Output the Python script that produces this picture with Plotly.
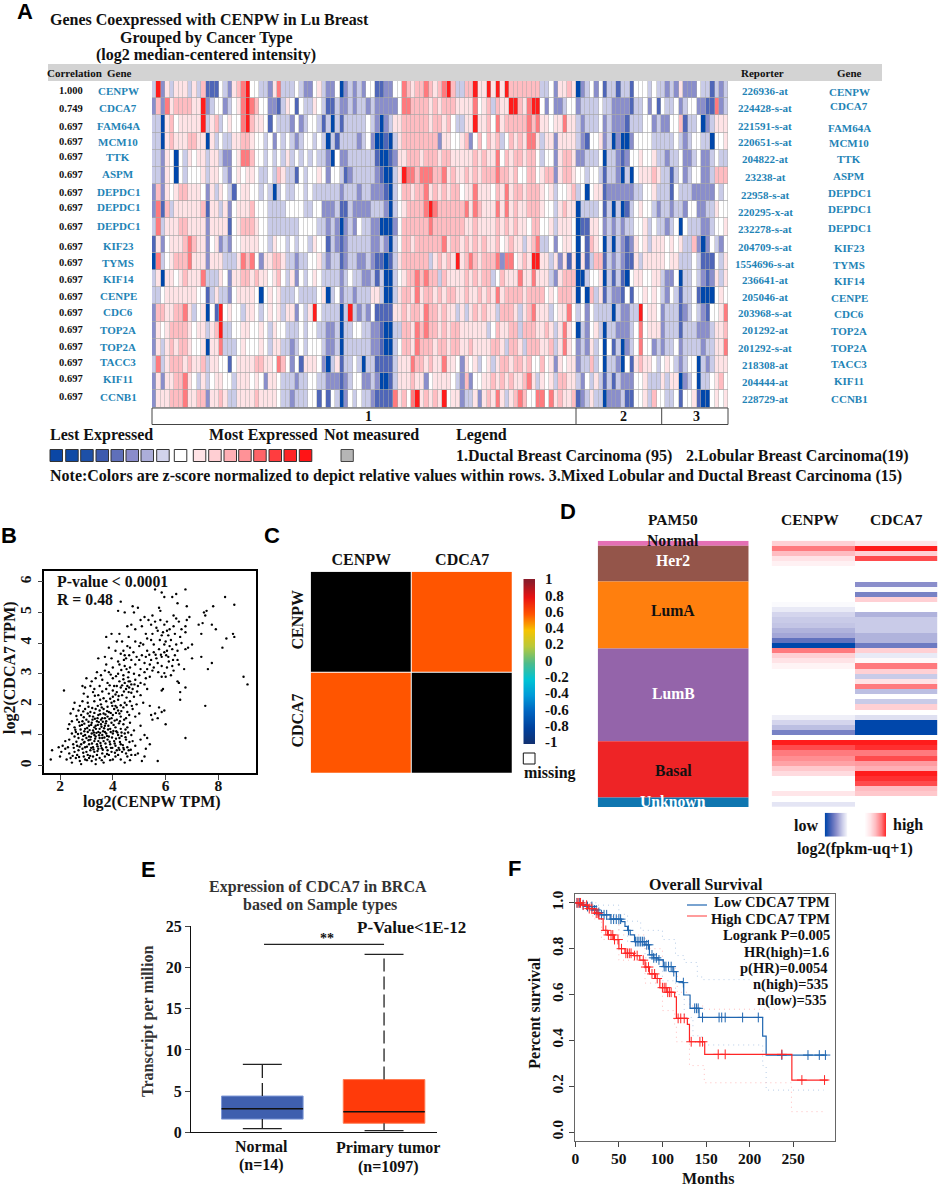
import numpy as np
import plotly.graph_objects as go

W, H = 941, 1188
SERIF = "Liberation Serif"
SANS = "Liberation Sans"

# --- panel A: levels 0 (deep blue) .. 4 (white) .. 8 (red), one string per gene
genes_left = ["CENPW", "CDCA7", "FAM64A", "MCM10", "TTK", "ASPM", "DEPDC1", "DEPDC1", "DEPDC1", "KIF23",
              "TYMS", "KIF14", "CENPE", "CDC6", "TOP2A", "TOP2A", "TACC3", "KIF11", "CCNB1"]
correlations = ["1.000", "0.749"] + ["0.697"] * 17
reporters = ["226936-at", "224428-s-at", "221591-s-at", "220651-s-at", "204822-at", "23238-at", "22958-s-at",
             "220295-x-at", "232278-s-at", "204709-s-at", "1554696-s-at", "236641-at", "205046-at", "203968-s-at",
             "201292-at", "201292-s-at", "218308-at", "204444-at", "228729-at"]
heat_rows = [
    "3825355535 3611143256 7844332573 3343224532 2402323244 1122447656 6765678633 6685585858 6666666334 25565 0234241331331444343 323252224331323",
    "2627566665 5823442345 7876442213 5414335431 1322323323 2222247766 6656566655 5574563655 8865788424 22344 2333343322221334241 433423442211723",
    "3305645555 5835634544 7865541433 3242344313 0313333343 2023556666 6656656433 5585564756 6666767554 55755 3233342322213334423 224461334023555",
    "3305655566 5505343355 6654434243 4323443430 3133332342 0010356666 6666255445 6246465634 6565775355 25555 3214452302002444433 333432344330445",
    "3325404354 5535532245 7764434343 5343434332 0422333333 1001255666 5666566555 5565655746 5665664344 25665 2233340332124454453 323342234223433",
    "3325404344 4535543245 4554334365 3314344542 4431233333 2100358776 7776675655 6565666766 5644664566 25665 4434431332030455565 331342344223666",
    "2625456655 5425354314 5544343034 3344343333 3323332332 2210346656 6756565664 5575554657 5665666545 34456 3404551222222334453 331433322222434",
    "2716355555 5615535245 5564443333 4444334422 2311322223 3320345666 6787666666 7576555757 5655666544 35655 0333341303013454432 332332442233544",
    "3735556655 5525555145 6665443333 3334444332 3202324332 2000246666 6676666666 5565555656 5655466445 35554 0115542323233445343 323404333223445",
    "1524555676 5524523244 5555443544 3434435441 3212333332 2320346656 6666675665 6565655645 6553567334 24554 0416540303212545355 545453362024324",
    "0734566675 5525553335 7674255665 3323344532 3312332232 1101356666 6635656585 6765666727 7456588553 52515 0513661323211535555 545533343111435",
    "3505545655 5733354255 6656554564 3524345433 3323433223 1300345667 6766365555 6565663465 5575575553 25666 0034450313104554455 322403343212535",
    "3345555555 4413533245 5554045453 3343333450 3423323335 5300356657 5665656655 6556565756 6665666645 46665 0406351322141445454 324313341000454",
    "2665566753 4504184544 3554345453 5524358433 3303832324 1111556566 5766565535 3565655366 6535675553 45574 3424333303223384554 233312343214457",
    "2545666654 5535683344 5544543544 3334344332 2303344332 2100336657 6766565665 5555534655 6636665565 35754 0324530332223474555 233313332223556",
    "2535656654 4505573334 5444543553 3234344432 2303333332 2100346657 6665665665 5655556653 6653666556 35754 2325340413023474423 233423333233557",
    "3735666565 5635544145 5556655476 4241555420 3513343033 1111355576 6565575542 5453453566 5665644645 25455 2336340332041565543 454323440323555",
    "2525566754 3534554435 5545425543 3323344332 2212344223 2001355565 5245555432 6244556565 6556753545 36655 3243531313222445333 535502340334564",
    "2555666755 6625565335 5556555543 3233344141 4302434332 1111756478 5656584552 3352565753 5676447747 56556 1235330222311445364 433414451004545",
]
level_colors = ["#0047ab", "#4f66b8", "#8a8ecb", "#c9cbe8", "#ffffff", "#ffe3e6", "#ffbcc1", "#ff7a7e", "#ff1c1c"]
swatch_colors = ["#0b47a5", "#0f4aa6", "#1d50a8", "#3c5aae", "#5f70ba", "#8a8ccb", "#acaed9", "#d2d3ec", "#ffffff",
                 "#ffe3e6", "#ffcfd3", "#ffb0b5", "#ff9297", "#ff6468", "#ff3d3f", "#ff2426", "#ff1416"]
group_labels = ["1", "2", "3"]

# --- panel B: (log2 CENPW TPM, log2 CDCA7 TPM)
scatter_points = [
    (5.6,5.75),(5.85,5.65),(6.25,5.5),(6.4,5.6),(6.75,5.75),(5.95,5.5),(8.25,5.5),(8.6,5.25),(6.45,5.3),(6.8,5.2),
    (7.8,5.2),(7.55,5.05),(7.5,4.9),(7.45,5.0),(4.3,5.35),(4.75,5.2),(4.95,5.15),(4.2,5.05),(4.45,5.0),(4.8,5.0),
    (5.75,5.15),(5.8,5.05),(5.2,4.85),(5.5,4.9),(6.9,4.85),(6.8,4.75),(6.3,4.9),(6.4,4.8),(7.25,4.6),(7.4,4.65),
    (7.75,4.6),(7.9,4.45),(7.35,4.3),(8.55,4.3),(8.6,4.2),(8.3,4.15),(8.15,3.85),(7.0,3.95),(6.85,3.85),(7.0,3.5),
    (7.35,3.55),(7.75,3.35),(7.6,3.15),(8.95,2.9),(9.1,2.65),(7.5,1.95),(6.75,0.9),(6.75,2.55),(6.55,2.4),(6.5,2.7),
    (6.45,2.75),(6.55,2.15),(6.0,1.35),(5.95,1.8),(5.75,1.9),(5.85,1.75),(5.7,1.55),(5.5,1.5),(5.45,1.65),(5.6,1.7),
    (5.7,0.15),(5.1,0.15),(5.2,0.3),(5.4,0.7),(5.3,0.9),(2.15,2.45),
    (4.55,4.55),(4.7,4.6),(4.85,4.45),(5.05,4.75),(5.1,4.55),(5.35,4.75),(5.45,4.6),(5.6,4.7),(5.65,4.5),(5.8,4.75),
    (5.95,4.6),(6.05,4.7),(6.15,4.45),(6.3,4.55),(6.5,4.7),(6.6,4.45),(6.75,4.55),(6.05,4.4),(5.9,4.35),(5.7,4.4),
    (5.5,4.3),(5.25,4.3),(5.3,4.15),(5.45,4.1),(5.85,4.25),(6.1,4.25),(6.35,4.3),(6.55,4.2),(6.75,4.35),(3.75,4.2),
    (3.95,4.3),(4.25,4.3),(4.6,4.2),(4.35,4.05),(4.15,4.05),(4.85,4.05),(5.05,4.0),(5.15,3.95),(5.0,3.9),(5.55,3.95),
    (5.95,3.95),(6.15,3.9),(6.4,3.95),(6.6,4.0),(6.75,3.8),(6.45,3.75),(6.25,3.8),(6.05,3.75),(5.95,3.7),(5.75,3.8),
    (5.55,3.7),(5.3,3.75),(4.55,3.9),(4.4,3.75),(4.65,3.85),(3.85,3.85),(4.1,3.75),(4.3,3.65),(4.45,3.6),(4.5,3.5),
    (4.7,3.45),(4.9,3.55),(5.1,3.6),(5.25,3.55),(5.45,3.45),(5.65,3.5),(5.85,3.55),(6.1,3.55),(6.35,3.6),(6.45,3.45),
    (6.5,3.3),(6.25,3.25),(6.05,3.2),(5.85,3.25),(5.7,3.35),(5.4,3.3),(5.3,3.15),(5.5,3.1),(6.7,3.15),(6.3,3.1),
    (3.7,3.55),(3.45,3.5),(3.95,3.5),(4.2,3.4),(3.75,3.3),(4.0,3.2),(4.25,3.3),(4.45,3.25),(4.65,3.2),(4.85,3.3),
    (5.05,3.15),(5.2,3.05),(3.4,3.05),(3.55,2.95),(3.7,3.1),(3.85,3.05),(4.2,3.0),(4.4,2.95),(4.6,3.05),(4.8,3.0),
    (5.0,2.95),(5.25,2.85),(5.4,2.9),(5.85,2.9),(6.0,2.9),(6.2,2.95),(3.0,2.85),(3.2,2.75),(3.35,2.85),(3.6,2.8),
    (3.8,2.7),(4.0,2.85),(4.25,2.75),(4.45,2.7),(4.65,2.75),(4.85,2.8),(5.05,2.7),(5.2,2.65),(2.85,2.6),(2.95,2.55),
    (3.15,2.6),(3.3,2.5),(3.5,2.6),(3.75,2.5),(4.05,2.6),(4.3,2.55),(4.55,2.6),(4.75,2.5),(4.95,2.6),(5.3,2.5),
    (5.85,2.45),(5.9,2.5),(2.9,2.35),(3.05,2.25),(3.25,2.4),(3.45,2.3),(3.65,2.2),(3.85,2.35),(4.0,2.25),(4.15,2.4),
    (4.35,2.3),(4.6,2.4),(4.8,2.25),(5.05,2.3),(4.05,2.1),(3.95,2.05),(4.2,2.15),(2.55,2.05),(2.75,1.95),(2.85,2.1),
    (3.05,2.05),(3.3,2.1),(3.55,2.0),(3.75,2.1),(4.45,2.05),(4.65,2.1),(4.9,2.0),(5.15,2.05),(5.4,1.95),(2.5,1.85),
    (2.7,1.8),(2.95,1.85),(3.15,1.75),(3.35,1.85),(3.5,1.8),(3.65,1.85),(3.85,1.75),(4.05,1.85),(4.2,1.8),(4.4,1.9),
    (4.55,1.75),(4.75,1.85),(5.0,1.7),(2.4,1.7),(2.8,1.65),(3.05,1.7),(3.25,1.6),(3.45,1.65),(3.6,1.55),(3.8,1.6),
    (4.0,1.65),(4.3,1.6),(4.5,1.55),(4.85,1.6),(2.35,1.35),(2.45,1.45),(2.65,1.5),(2.85,1.45),(3.0,1.5),(3.2,1.4),
    (3.4,1.45),(3.55,1.35),(3.75,1.45),(3.95,1.4),(4.15,1.5),(4.4,1.35),(4.65,1.4),(5.05,1.3),(2.3,1.2),(2.55,1.25),
    (2.75,1.3),(2.95,1.2),(3.1,1.3),(3.3,1.25),(3.5,1.2),(3.7,1.3),(3.9,1.2),(4.1,1.25),(4.3,1.2),(4.55,1.25),(4.8,1.15),
    (2.45,1.05),(2.6,1.1),(2.8,1.05),(2.95,1.0),(3.05,1.1),(3.2,1.05),(3.35,0.95),(3.45,1.1),(3.6,1.0),(3.75,1.05),
    (3.85,0.95),(4.0,1.05),(4.2,1.0),(4.45,1.05),(4.7,1.0),(5.2,1.0),(2.2,0.8),(2.35,0.85),(2.55,0.95),(2.7,0.9),
    (2.85,0.85),(3.0,0.9),(3.15,0.85),(3.3,0.8),(3.5,0.9),(3.65,0.8),(3.8,0.85),(4.05,0.8),(4.25,0.9),(4.5,0.85),
    (4.75,0.8),(5.05,0.85),(2.1,0.65),(2.3,0.6),(2.5,0.7),(2.65,0.65),(2.8,0.7),(2.95,0.6),(3.1,0.7),(3.25,0.6),
    (3.4,0.7),(3.55,0.65),(3.75,0.6),(3.9,0.7),(4.1,0.65),(4.3,0.7),(4.55,0.6),(4.85,0.65),(5.25,0.55),(1.7,0.5),
    (1.95,0.6),(2.05,0.45),(2.2,0.55),(2.35,0.4),(2.55,0.45),(2.7,0.5),(2.85,0.55),(3.0,0.45),(3.15,0.5),(3.3,0.45),
    (3.45,0.55),(3.6,0.4),(3.8,0.5),(3.95,0.45),(4.15,0.5),(4.35,0.45),(4.6,0.5),(4.95,0.4),(1.65,0.2),(2.0,0.3),
    (2.25,0.2),(2.45,0.1),(2.6,0.25),(2.75,0.15),(2.8,0.05),(2.9,0.3),(3.05,0.35),(3.2,0.15),(3.25,0.3),(3.35,0.05),
    (3.5,0.25),(3.65,0.1),(3.7,0.3),(3.85,0.35),(4.0,0.2),(4.1,0.3),(4.2,0.35),(4.45,0.1),(4.55,0.3),(4.7,0.35),(4.85,0.35),
    (2.95,0.2),(3.1,0.25),(3.4,0.35),(2.65,0.35),(2.4,0.25),(3.6,0.9),(3.3,1.0),(3.1,0.95),(3.45,0.8),(3.7,1.1),(3.25,1.15),
    (2.9,0.75),(3.55,1.5),(3.65,1.7),(3.35,1.3),(4.0,2.45),(4.15,2.6),(4.1,1.95),(4.25,1.7),(3.95,1.55),(4.6,2.75),(4.7,2.65),
    # denser lower left cloud
    (2.62,0.78),(2.74,0.62),(2.88,0.97),(2.93,0.77),(3.02,0.62),(3.08,0.83),(3.17,0.94),(3.21,0.72),(3.27,0.53),(3.33,0.88),
    (3.38,1.07),(3.42,0.63),(3.48,0.99),(3.53,0.74),(3.58,0.57),(3.63,1.12),(3.68,0.92),(3.72,0.72),(3.78,0.97),(3.82,1.18),
    (3.88,0.78),(3.93,0.58),(3.97,0.92),(4.02,1.13),(4.07,0.72),(4.12,0.88),(4.17,1.08),(4.22,0.58),(4.27,0.77),(4.33,0.97),
    (4.38,0.67),(4.42,0.53),(4.48,0.93),(4.58,1.08),(4.63,0.77),(4.68,0.52),(2.58,1.17),(2.68,1.03),(2.78,1.18),(2.83,1.33),
    (2.92,1.12),(3.03,1.23),(3.12,1.16),(3.18,1.33),(3.28,1.08),(3.36,1.2),(3.43,1.33),(3.52,1.07),(3.57,1.27),(3.67,1.22),
    (3.73,1.38),(3.83,1.3),(3.92,1.1),(4.03,1.33),(4.13,1.12),(4.23,1.38),(4.33,1.08),(4.48,1.18),(2.72,1.42),(2.92,1.37),
    (3.08,1.43),(3.23,1.5),(3.32,1.53),(3.47,1.42),(3.62,1.43),(3.7,1.55),(3.87,1.52),(4.07,1.47),(4.27,1.45),(4.43,1.5),
    (2.62,1.62),(2.9,1.58),(3.12,1.62),(3.3,1.72),(3.42,1.55),(3.52,1.68),(3.72,1.67),(3.78,1.78),(3.92,1.72),(4.12,1.72),
    (4.32,1.78),(4.62,1.65),(2.88,1.77),(3.08,1.92),(3.22,1.88),(3.43,1.95),(3.58,1.9),(3.8,1.92),(3.98,1.95),(4.15,1.9),
    (4.3,1.97),(4.52,1.98),(4.72,1.95),(3.9,2.18),(4.1,2.32),(4.22,2.27),(4.42,2.42),(4.52,2.22),(4.7,2.38),(4.92,2.42),
    (3.6,2.42),(3.88,2.62),(3.32,2.28),(3.52,2.15),(4.35,2.62),(4.5,2.5),(4.62,2.55),(4.82,2.65),(4.58,2.88),(4.4,2.82),
    (4.12,2.92),(3.92,2.97),(4.32,3.12),(4.52,3.15),(4.62,3.6),(4.42,3.45),(4.78,3.7),(5.0,3.45),(5.2,3.35),(5.55,3.2),
    (5.72,3.05),(5.95,3.02),(6.12,3.4),(6.28,3.45),(6.02,3.6),(5.82,3.62),(5.62,3.62),(5.38,3.62),(6.2,4.1),(6.0,4.05),(5.78,4.1),
    (2.52,0.58),(2.48,0.32),(2.72,0.28),(2.88,0.42),(3.02,0.18),(3.14,0.32),(3.18,0.58),(3.36,0.2),(3.42,0.48),(3.58,0.18),
    (3.62,0.52),(3.78,0.38),(3.9,0.18),(3.98,0.58),(4.08,0.42),(4.25,0.52),(4.3,0.2),(4.4,0.58),(4.5,0.4),(4.65,0.18),
]

# --- panel C
corr_labels = ["CENPW", "CDCA7"]
corr_values = [[1.0, 0.48], [0.48, 1.0]]
cbar_levels = [-1, -0.8, -0.6, -0.4, -0.2, 0, 0.2, 0.4, 0.6, 0.8, 1]
cbar_colors = ["#12306e", "#00409c", "#0064c0", "#009ad8", "#00c4d4", "#4cbb8c", "#b9c93a", "#f6c400", "#ff5500", "#e81212", "#8c1c2a"]

# --- panel D
pam50_names = ["Normal", "Her2", "LumA", "LumB", "Basal", "Unknown"]
pam50_share = [1.9, 13.4, 25.2, 34.8, 21.1, 3.6]
pam50_colors = ["#e46fb4", "#94554a", "#ff7f0e", "#9464aa", "#ee2426", "#0f76b0"]
pam50_text = ["#111111", "#ffffff", "#111111", "#ffffff", "#111111", "#ffffff"]
d_cenpw = [5.5, 7, 6, 5, 4.5, 4, 4, 4, 4, 4, 4, 4, 3.9, 3.6, 3.2, 3, 2.9, 2.6, 2.4, 1.3, 0, 7, 5.5, 5, 4.4, 4, 4, 4, 4, 4,
           4, 4, 4, 4, 3.7, 3.2, 2.8, 1.7, 4, 8, 7.5, 7, 6.7, 6.4, 5.7, 5.2, 4, 4, 4, 4.9, 4, 3.5]
d_cdca7 = [5, 8, 5.5, 7.5, 4, 4, 4, 4, 2, 3.9, 1.7, 5.5, 4, 4, 2.6, 3, 3, 3, 2.6, 2.6, 1.5, 5.5, 3.6, 4.2, 7, 5.5, 3, 5, 7, 2.8,
           4, 3, 5.5, 4, 3.4, 0, 0, 0, 4, 8, 7.8, 7, 7.5, 6.5, 6.2, 8, 7.8, 7.5, 6, 5.7, 4, 4]

# --- panel E
box_names = ["Normal", "Primary tumor"]
box_low = [0.45, 0.2]
box_q1 = [1.6, 1.1]
box_median = [2.85, 2.5]
box_q3 = [4.4, 6.4]
box_high = [8.25, 21.6]
box_colors = ["#3f5fae", "#ff3a0a"]

# --- panel F
low_months = [0, 6, 13, 20, 25, 30, 40, 53, 57, 60, 63, 68, 80, 85, 90, 95, 101, 112, 116, 123, 124.4, 131.7, 142, 215, 219, 288.5]
low_surv = [1, 0.992, 0.984, 0.969, 0.958, 0.948, 0.929, 0.918, 0.897, 0.88, 0.86, 0.831, 0.817, 0.773, 0.76, 0.751, 0.722, 0.7, 0.656, 0.652, 0.598, 0.54, 0.5, 0.419, 0.336, 0.336]
high_months = [0, 8, 15, 22, 27, 32, 37, 44, 50, 57, 67, 74, 80, 85, 92, 97, 105, 114, 116, 128.6, 131, 148.5, 248.5, 289.7]
high_surv = [1, 0.99, 0.975, 0.955, 0.93, 0.88, 0.86, 0.84, 0.8, 0.78, 0.77, 0.75, 0.72, 0.69, 0.67, 0.63, 0.61, 0.59, 0.496, 0.47, 0.394, 0.339, 0.227, 0.227]
low_upper_m = [0, 20, 50, 60, 75, 100, 115, 125, 140, 145, 200]
low_upper_s = [1, 0.99, 0.95, 0.92, 0.88, 0.84, 0.77, 0.74, 0.68, 0.665, 0.665]
low_lower_m = [0, 25, 50, 60, 80, 100, 115, 125, 135, 145, 215, 219, 285]
low_lower_s = [1, 0.95, 0.88, 0.83, 0.76, 0.66, 0.6, 0.5, 0.42, 0.38, 0.29, 0.183, 0.183]
high_upper_m = [0, 20, 30, 50, 80, 100, 115, 117, 130, 131, 148, 248]
high_upper_s = [1, 0.97, 0.94, 0.86, 0.8, 0.72, 0.68, 0.61, 0.6, 0.55, 0.536, 0.536]
high_lower_m = [0, 20, 30, 50, 80, 100, 114, 116, 131, 148, 248, 285]
high_lower_s = [1, 0.93, 0.84, 0.75, 0.65, 0.53, 0.47, 0.394, 0.29, 0.215, 0.089, 0.089]
low_censor = [2, 5, 9, 14, 19, 22, 24, 27, 30, 33, 36, 41, 44, 47, 50, 52, 61, 69, 71, 73, 75, 77, 79, 82, 84, 88, 90, 93, 96, 102,
              104, 107, 110, 113, 124, 137, 139, 141, 146, 165, 168, 172, 192, 210, 237, 267, 280, 287]
high_censor = [2, 4, 6, 9, 13, 16, 19, 24, 26, 35, 38, 41, 43, 45, 49, 53, 58, 60, 62, 64, 68, 71, 78, 81, 84, 88, 91, 94, 100,
               102, 104, 106, 108, 110, 118, 121, 125, 133, 143, 146, 164, 172, 237, 260, 286]
f_legend = ["Logrank P=0.005", "HR(high)=1.6", "p(HR)=0.0054", "n(high)=535", "n(low)=535"]


def dom_x(left, right):
    return [left / W, right / W]


def dom_y(top, bottom):
    return [1 - bottom / H, 1 - top / H]


def step_at(months, surv, when):
    # survival of a step curve at a given month
    return [surv[int(np.searchsorted(months, m, side="right")) - 1] for m in when]


annotations = []
shapes = []


def label(text, x, y, size=14, color="#111111", anchor="center", angle=0, family=SERIF, weight=700):
    annotations.append(dict(text=text, x=x / W, y=1 - y / H, xref="paper", yref="paper", showarrow=False,
                            xanchor=anchor, yanchor="middle", textangle=angle, borderpad=0, borderwidth=0,
                            font=dict(family=family, size=size, color=color, weight=weight)))


def box(x0, y0, x1, y1, fill=None, line=None, width=1, layer="above"):
    shapes.append(dict(type="rect", xref="paper", yref="paper", x0=x0 / W, x1=x1 / W, y0=1 - y0 / H, y1=1 - y1 / H,
                       fillcolor=fill or "rgba(0,0,0,0)", line=dict(color=line or "rgba(0,0,0,0)", width=width), layer=layer))


def segment(x0, y0, x1, y1, color="#222222", width=1):
    shapes.append(dict(type="line", xref="paper", yref="paper", x0=x0 / W, x1=x1 / W, y0=1 - y0 / H, y1=1 - y1 / H,
                       line=dict(color=color, width=width)))


fig = go.Figure()
level_scale = [[i / 8, c] for i, c in enumerate(level_colors)]
hidden = dict(visible=False, fixedrange=True)
layout_axes = {}

# panel letters
for letter, lx, ly in [("A", 25, 11), ("B", 9, 536), ("C", 272, 536), ("D", 568, 511), ("E", 148, 869), ("F", 514, 868)]:
    label(letter, lx, ly, size=22, color="#000000", family=SANS)

# ---------- A
heat_z = [[int(c) for c in row.replace(" ", "")] for row in heat_rows]
assert all(len(r) == 129 for r in heat_z)
box(152, 81, 728, 407.5, fill="#a8a8a8", layer="below")
box(48, 64, 882, 81, fill="#d3d3d3", layer="below")
fig.add_trace(go.Heatmap(z=heat_z, colorscale=level_scale, zmin=0, zmax=8, showscale=False, xgap=0.5, ygap=0.7,
                         xaxis="x", yaxis="y", hoverinfo="skip"))
layout_axes["xaxis"] = dict(hidden, domain=dom_x(152, 728), range=[-0.5, 128.5], anchor="y")
layout_axes["yaxis"] = dict(hidden, domain=dom_y(81, 407.5), range=[18.5, -0.5], anchor="x")

label("Genes Coexpressed with CENPW in Lu Breast", 209, 20, size=16)
label("Grouped by Cancer Type", 206, 38, size=16)
label("(log2 median-centered intensity)", 206, 55, size=16)
label("Correlation", 74, 73, size=11)
label("Gene", 119, 73, size=11)
label("Reporter", 762, 73, size=11)
label("Gene", 849, 73, size=11)

left_y = [91, 108, 126, 141.5, 157, 174.5, 192, 207, 226.5, 246, 263, 279, 296, 312, 329.5, 347, 362, 379, 397]
rep_y = [91, 108, 126, 142, 159, 177, 195, 212, 229, 247, 264, 280, 297, 313, 330, 348, 365, 382, 399]
right_y = [92, 106, 128, 143, 159, 176, 193, 209, 228, 248, 265, 281, 298, 314, 331, 348, 364, 381, 399]
TEAL = "#1f84b6"
for i in range(19):
    label(correlations[i], 71, left_y[i], size=10.5, color="#111111")
    label(genes_left[i], 118, left_y[i], size=11, color=TEAL)
    label(reporters[i], 765, rep_y[i], size=11, color=TEAL)
    label(genes_left[i], 849, right_y[i], size=11, color=TEAL)

box(152, 408, 728, 424.5, line="#444444", width=1)
segment(576, 408, 576, 424.5, "#444444")
segment(661.7, 408, 661.7, 424.5, "#444444")
for txt, gx in zip(group_labels, [368, 623, 696]):
    label(txt, gx, 416.5, size=14)

label("Lest Expressed", 50, 435, size=16, anchor="left")
label("Most Expressed", 209, 435, size=16, anchor="left")
label("Not measured", 324, 435, size=16, anchor="left")
label("Legend", 456, 435, size=16, anchor="left")
swatch_left = [50, 65.7, 80.7, 96, 111, 126, 141, 156.7, 174.3, 193.3, 208.7, 224, 238.7, 253.7, 269, 284, 299.3]
for sx, col in zip(swatch_left, swatch_colors):
    box(sx, 449.5, sx + 12.5, 461.5, fill=col, line="#333333", width=1)
box(341, 449.5, 353.3, 461.5, fill="#b5b5b5", line="#444444", width=1)
label("1.Ductal Breast Carcinoma (95)", 456, 456, size=16, anchor="left")
label("2.Lobular Breast Carcinoma(19)", 686, 456, size=16, anchor="left")
label("Note:Colors are z-score normalized to depict relative values within rows. 3.Mixed Lobular and Ductal Breast Carcinoma (15)",
      50, 475.5, size=16, anchor="left")

# ---------- B
fig.add_trace(go.Scatter(x=[p[0] for p in scatter_points], y=[p[1] for p in scatter_points], mode="markers",
                         marker=dict(size=2.4, color="#000000"), xaxis="x2", yaxis="y2", hoverinfo="skip"))
tick_font = dict(family=SERIF, size=15.5, color="#111111", weight=700)
layout_axes["xaxis2"] = dict(domain=dom_x(44.3, 255.7), range=[1.405, 9.41], anchor="y2", tickvals=[2, 4, 6, 8],
                             ticks="outside", ticklen=5, ticklabelstandoff=-7, tickfont=tick_font, showgrid=False, zeroline=False,
                             showline=True, linecolor="#000000", linewidth=1.5, mirror=True, fixedrange=True)
layout_axes["yaxis2"] = dict(domain=dom_y(570.7, 773), range=[-0.24, 6.36], anchor="x2", tickvals=[0, 1, 2, 3, 4, 5, 6],
                             ticks="outside", ticklen=5, tickangle=-90, tickfont=tick_font, showgrid=False, zeroline=False,
                             showline=True, linecolor="#000000", linewidth=1.5, mirror=True, fixedrange=True)
label("log2(CENPW TPM)", 152, 802, size=16)
label("log2(CDCA7 TPM)", 10, 668, size=16, angle=-90)
label("P-value < 0.0001", 57, 582, size=15.8, anchor="left")
label("R = 0.48", 57, 599, size=15.8, anchor="left")

# ---------- C
fig.add_trace(go.Heatmap(z=corr_values, x=corr_labels, y=corr_labels, zmin=0.48, zmax=1, showscale=False, xgap=1, ygap=1,
                         colorscale=[[0, "#ff5500"], [0.9, "#ff5500"], [1, "#000000"]], xaxis="x3", yaxis="y3", hoverinfo="skip"))
layout_axes["xaxis3"] = dict(domain=dom_x(310.7, 512.7), side="top", anchor="y3", ticks="", ticklabelstandoff=3,
                             tickfont=dict(tick_font, size=16), showgrid=False, zeroline=False, fixedrange=True)
layout_axes["yaxis3"] = dict(domain=dom_y(571.7, 773.3), autorange="reversed", anchor="x3", ticks="", tickangle=-90,
                             ticklabelstandoff=4, tickfont=dict(tick_font, size=16), showgrid=False, zeroline=False, fixedrange=True)
fig.add_trace(go.Heatmap(z=[[v, v] for v in cbar_levels], x=[0, 1], y=[v - 0.025 for v in cbar_levels], zmin=-1, zmax=1, zsmooth="best",
                         showscale=False, colorscale=[[(v + 1) / 2, c] for v, c in zip(cbar_levels, cbar_colors)],
                         xaxis="x4", yaxis="y4", hoverinfo="skip"))
layout_axes["xaxis4"] = dict(hidden, domain=dom_x(523.3, 535), range=[0, 1], anchor="y4")
layout_axes["yaxis4"] = dict(domain=dom_y(579, 744), range=[-1.025, 1.0], anchor="x4", side="right", tickvals=cbar_levels,
                             ticktext=[str(v) for v in cbar_levels], ticks="", ticklabelstandoff=9, tickfont=dict(tick_font, size=15),
                             showgrid=False, zeroline=False, showline=False, fixedrange=True)
box(523.3, 753, 535, 764, fill="#ffffff", line="#111111", width=1)
label("missing", 524, 773, size=16, anchor="left")

# ---------- D
pam50_base = np.cumsum([0] + pam50_share[:-1]).tolist()
for name, share, start, col in zip(pam50_names, pam50_share, pam50_base, pam50_colors):
    fig.add_trace(go.Bar(x=[0], y=[share], base=[start], width=1, marker=dict(color=col, line=dict(width=0)), name=name,
                         xaxis="x5", yaxis="y5", hoverinfo="skip"))
layout_axes["xaxis5"] = dict(hidden, domain=dom_x(597.7, 748.7), range=[-0.5, 0.5], anchor="y5")
layout_axes["yaxis5"] = dict(hidden, domain=dom_y(540.7, 807), range=[100, 0], anchor="x5")
for name, col, ly in zip(pam50_names, pam50_text, [540, 560, 610, 694, 770, 801]):
    label(name, 673, ly, size=15.7, color=col)
label("PAM50", 673, 519, size=15.5)
label("CENPW", 810, 519, size=15.5)
label("CDCA7", 896, 519, size=15.5)

d_z = [[a, b] for a, b in zip(d_cenpw, d_cdca7)]
fig.add_trace(go.Heatmap(z=d_z, colorscale=level_scale, zmin=0, zmax=8, showscale=False, xaxis="x6", yaxis="y6", hoverinfo="skip"))
layout_axes["xaxis6"] = dict(hidden, domain=dom_x(771.7, 937.3), range=[-0.5, 1.5], anchor="y6")
layout_axes["yaxis6"] = dict(hidden, domain=dom_y(540.7, 807), range=[51.5, -0.5], anchor="x6")

grad_low = [0, 1, 2, 3, 4]
grad_high = [4, 5, 6, 7, 8]
fig.add_trace(go.Heatmap(z=[grad_low, grad_low], x=grad_low, y=[0, 1], zsmooth="best", colorscale=level_scale, zmin=0, zmax=8,
                         showscale=False, xaxis="x7", yaxis="y7", hoverinfo="skip"))
fig.add_trace(go.Heatmap(z=[grad_high, grad_high], x=grad_high, y=[0, 1], zsmooth="best", colorscale=level_scale, zmin=0, zmax=8,
                         showscale=False, xaxis="x8", yaxis="y8", hoverinfo="skip"))
layout_axes["xaxis7"] = dict(hidden, domain=dom_x(824.7, 847.3), range=[0, 4], anchor="y7")
layout_axes["yaxis7"] = dict(hidden, domain=dom_y(812.7, 836.7), range=[0, 1], anchor="x7")
layout_axes["xaxis8"] = dict(hidden, domain=dom_x(864, 886), range=[4, 8], anchor="y8")
layout_axes["yaxis8"] = dict(hidden, domain=dom_y(812.7, 836.7), range=[0, 1], anchor="x8")
label("low", 805.7, 825, size=16)
label("high", 908, 825, size=16)
label("log2(fpkm-uq+1)", 855, 849, size=16)

# ---------- E
spread = [b - a for a, b in zip(box_q1, box_q3)]
fig.add_trace(go.Bar(x=[0, 1], y=spread, base=box_q1, width=0.67,
                     marker=dict(color=box_colors, line=dict(color=["#7d97d6", "#ff7a50"], width=1)),
                     xaxis="x9", yaxis="y9", hoverinfo="skip"))
for i in range(2):
    fig.add_trace(go.Scatter(x=[i, i], y=[box_q3[i], box_high[i]], mode="lines", xaxis="x9", yaxis="y9", hoverinfo="skip",
                             line=dict(color="#222222", width=1.3, dash="13px,5px")))
    fig.add_trace(go.Scatter(x=[i, i], y=[box_low[i], box_q1[i]], mode="lines", xaxis="x9", yaxis="y9", hoverinfo="skip",
                             line=dict(color="#222222", width=1.3)))
    for level in (box_low[i], box_high[i]):
        fig.add_trace(go.Scatter(x=[i - 0.16, i + 0.16], y=[level, level], mode="lines", xaxis="x9", yaxis="y9", hoverinfo="skip",
                                 line=dict(color="#222222", width=1.3)))
    fig.add_trace(go.Scatter(x=[i - 0.335, i + 0.335], y=[box_median[i], box_median[i]], mode="lines", xaxis="x9", yaxis="y9",
                             hoverinfo="skip", line=dict(color="#111111", width=1.5)))
fig.add_trace(go.Scatter(x=[0.014, 1], y=[22.8, 22.8], mode="lines", xaxis="x9", yaxis="y9", hoverinfo="skip",
                         line=dict(color="#222222", width=1.3)))
layout_axes["xaxis9"] = dict(domain=dom_x(191, 437.3), range=[-0.586, 1.4375], anchor="y9", showticklabels=False, ticks="",
                             showgrid=False, zeroline=False, showline=True, linecolor="#111111", linewidth=1.3, fixedrange=True)
layout_axes["yaxis9"] = dict(domain=dom_y(926.3, 1132.3), range=[0, 25], anchor="x9", tickvals=[0, 5, 10, 15, 20, 25],
                             ticks="outside", ticklen=5, tickfont=dict(tick_font, size=16), showgrid=False, zeroline=False,
                             showline=True, linecolor="#111111", linewidth=1.3, fixedrange=True)
label("Expression of CDCA7 in BRCA", 318, 887, size=16, color="#333333")
label("based on Sample types", 320, 905, size=16, color="#333333")
label("P-Value<1E-12", 411, 927, size=17)
label("**", 327, 938, size=14)
label("Transcript per million", 148, 1021, size=16, color="#333333", angle=-90)
label(box_names[0], 261, 1146, size=16)
label("(n=14)", 261, 1165, size=16)
label(box_names[1], 388, 1148, size=16)
label("(n=1097)", 388, 1167, size=16)

# ---------- F
BLUE, RED = "#1f66b0", "#ff2626"
for m, s, col in [(low_upper_m, low_upper_s, "#b5cbe6"), (low_lower_m, low_lower_s, "#b5cbe6"),
                  (high_upper_m, high_upper_s, "#ffbcbc"), (high_lower_m, high_lower_s, "#ffbcbc")]:
    fig.add_trace(go.Scatter(x=m, y=s, mode="lines", line=dict(color=col, width=1, dash="1px,4px", shape="hv"),
                             xaxis="x10", yaxis="y10", hoverinfo="skip"))
for m, s, censor, col in [(low_months, low_surv, low_censor, BLUE), (high_months, high_surv, high_censor, RED)]:
    fig.add_trace(go.Scatter(x=m, y=s, mode="lines", line=dict(color=col, width=1.2, shape="hv"),
                             xaxis="x10", yaxis="y10", hoverinfo="skip"))
    fig.add_trace(go.Scatter(x=censor, y=step_at(m, s, censor), mode="markers",
                             marker=dict(symbol="cross-thin", size=7, line=dict(color=col, width=1)),
                             xaxis="x10", yaxis="y10", hoverinfo="skip"))
layout_axes["xaxis10"] = dict(domain=dom_x(575.3, 835), range=[0, 298], anchor="y10", tickvals=[0, 50, 100, 150, 200, 250],
                              ticks="outside", ticklen=5, ticklabelstandoff=-2, tickfont=tick_font, showgrid=False, zeroline=False,
                              showline=True, linecolor="#666666", linewidth=1.2, mirror=True, fixedrange=True)
layout_axes["yaxis10"] = dict(domain=dom_y(893.7, 1141), range=[-0.039, 1.04], anchor="x10", tickvals=[0, 0.2, 0.4, 0.6, 0.8, 1],
                              ticktext=["0.0", "0.2", "0.4", "0.6", "0.8", "1.0"], ticks="outside", ticklen=5, tickangle=-90,
                              tickfont=tick_font, showgrid=False, zeroline=False, showline=True, linecolor="#666666",
                              linewidth=1.2, mirror=True, fixedrange=True)
label("Overall Survival", 705.7, 884, size=16)
label("Months", 708, 1178, size=16)
label("Percent survival", 535, 1012.7, size=16, angle=-90)
segment(687, 905, 707, 905, BLUE, 1.2)
segment(687, 916, 707, 916, "#ff5a5a", 1.2)
label("Low CDCA7 TPM", 829.5, 902, size=14.5, anchor="right")
label("High CDCA7 TPM", 829.5, 919, size=14.5, anchor="right")
for txt, rx, ly in zip(f_legend, [829.5, 828.5, 827.5, 827.5, 826], [935, 952, 968, 984, 1000]):
    label(txt, rx, ly, size=14.5, anchor="right")

fig.update_layout(width=W, height=H, autosize=False, margin=dict(l=0, r=0, t=0, b=0, autoexpand=False), showlegend=False,
                  barmode="overlay", paper_bgcolor="#ffffff", plot_bgcolor="rgba(0,0,0,0)", annotations=annotations, shapes=shapes,
                  font=dict(family=SERIF), **layout_axes)

fig.write_html("out.html", config=dict(displayModeBar=False),
               post_script="document.body.style.margin='0';document.body.style.overflow='hidden';")
